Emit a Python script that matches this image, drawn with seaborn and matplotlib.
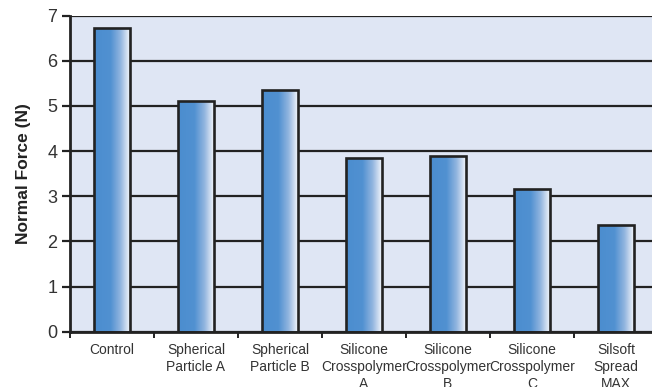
import numpy as np
import pandas as pd
import matplotlib
matplotlib.use("Agg")
import matplotlib.pyplot as plt
from matplotlib.colors import LinearSegmentedColormap
from matplotlib.ticker import FixedLocator
import seaborn as sns

# Data
categories = [
    "Control",
    "Spherical\nParticle A",
    "Spherical\nParticle B",
    "Silicone\nCrosspolymer\nA",
    "Silicone\nCrosspolymer\nB",
    "Silicone\nCrosspolymer\nC",
    "Silsoft\nSpread\nMAX",
]
normal_force = [6.72, 5.10, 5.35, 3.84, 3.89, 3.15, 2.36]
y_ticks = [0, 1, 2, 3, 4, 5, 6, 7]

df = pd.DataFrame({"sample": categories, "force": normal_force})

sns.set_theme(style="white")
plt.rcParams["font.family"] = ["Liberation Sans", "DejaVu Sans"]

fig = plt.figure(figsize=(6.52, 3.87), dpi=100)
ax = fig.add_axes([70 / 652, 55.3 / 387, 588 / 652, 316.2 / 387])
ax.set_facecolor("#dfe6f4")

ink = "#222222"

sns.barplot(data=df, x="sample", y="force", ax=ax, width=0.43,
            color="#5090d0", edgecolor=ink, linewidth=1.9, saturation=1)

# Horizontal gradient fill inside each bar
bar_cmap = LinearSegmentedColormap.from_list(
    "bar", [(0.0, "#4b8dcf"), (0.45, "#5191d1"), (0.72, "#92b5df"),
            (0.93, "#e2eaf6"), (1.0, "#ffffff")])
grad = np.linspace(0, 1, 256).reshape(1, -1)
for patch in ax.patches:
    x0, y0 = patch.get_x(), patch.get_y()
    w, h = patch.get_width(), patch.get_height()
    im = ax.imshow(grad, extent=[x0, x0 + w, y0, y0 + h], aspect="auto",
                   cmap=bar_cmap, interpolation="bilinear", zorder=1.5)
    im.set_clip_path(patch)
    patch.set_facecolor("none")
    patch.set_zorder(2)

ax.set_xlim(-0.5, 6.5)
ax.set_ylim(0, 7)
ax.set_yticks(y_ticks)

# Horizontal grid
ax.set_axisbelow(True)
ax.yaxis.grid(True, color=ink, linewidth=1.6)
ax.xaxis.grid(False)

for side in ["top", "right"]:
    ax.spines[side].set_visible(False)
for side in ["left", "bottom"]:
    ax.spines[side].set_color(ink)
    ax.spines[side].set_linewidth(2.0)
    ax.spines[side].set_zorder(3)

ax.set_xlabel("")
ax.set_ylabel("Normal Force (N)", fontsize=12.5, fontweight="bold",
              color=ink, labelpad=12)

ax.tick_params(axis="y", which="major", left=True, direction="out",
               length=6, width=1.6, color=ink, labelsize=13,
               labelcolor="#333333", pad=3)
ax.tick_params(axis="x", which="major", bottom=False, length=0,
               labelsize=10, labelcolor="#333333", pad=8)
for lbl in ax.get_xticklabels():
    lbl.set_linespacing(1.3)

# Small ticks between categories
ax.xaxis.set_minor_locator(FixedLocator(np.arange(-0.5, 7.0, 1.0)))
ax.tick_params(axis="x", which="minor", bottom=True, direction="out",
               length=4, width=1.4, color=ink)

fig.savefig("out.png", dpi=100)
